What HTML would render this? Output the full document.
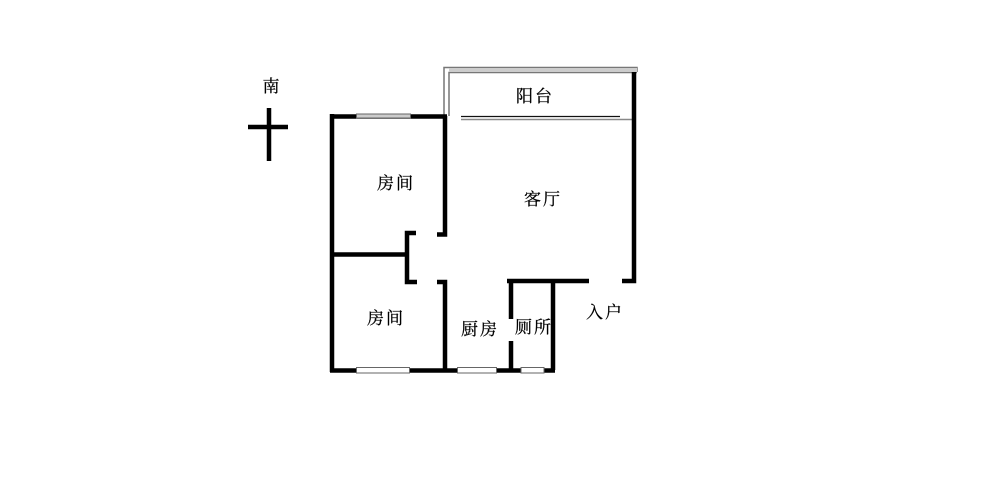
<!DOCTYPE html>
<html><head><meta charset="utf-8"><style>
html,body{margin:0;padding:0;background:#fff}
svg{display:block}
text{font-family:"Liberation Serif","Noto Serif CJK SC",serif;font-size:17px;fill:#000;stroke:#000;stroke-width:.25px;text-anchor:middle;letter-spacing:2px}
</style></head><body>
<svg width="1000" height="489" viewBox="0 0 1000 489" xmlns="http://www.w3.org/2000/svg">
<rect width="1000" height="489" fill="#fff"/>
<!-- balcony -->
<g fill="none" stroke="#777" stroke-width="1.5">
<path d="M444 116V67.500H637V72M449 116V72.500H637"/>
</g>
<rect x="449" y="68" width="188" height="4" fill="#ccc"/>
<path d="M461 119.500H634" stroke="#888" stroke-width="1.500"/>
<path d="M461 116.500H620" stroke="#111" stroke-width="1.200"/>
<!-- walls -->
<g fill="none" stroke="#000" stroke-width="4.500">
<path d="M332 114V372"/>
<path d="M330 116.500H447"/>
<path d="M445 116V234.500H437"/>
<path d="M330 254.500H407"/>
<path d="M416 233H407V282H417"/>
<path d="M437 282H445V370"/>
<path d="M330 370.500H555"/>
<path d="M507 281H589"/>
<path d="M511 281V319M511 341V370"/>
<path d="M553 281V370"/>
<path d="M634 72V281H622"/>
<path d="M269 108V161M248 127H288"/>
</g>
<!-- windows -->
<g fill="#fff" stroke="#666" stroke-width="1">
<rect x="356.500" y="114" width="54" height="4" fill="#ccc"/>
<rect x="356.500" y="367.500" width="53" height="5.500"/>
<rect x="457.500" y="367.500" width="39" height="5.500"/>
<rect x="521" y="367.500" width="23" height="5.500"/>
</g>
<!-- labels -->
<text x="535" y="102">阳台</text>
<text x="396" y="189">房间</text>
<text x="543" y="205">客厅</text>
<text x="386" y="324">房间</text>
<text x="480" y="335">厨房</text>
<text x="534" y="333">厕所</text>
<text x="605" y="318">入户</text>
<text x="272" y="92">南</text>
</svg>
</body></html>
